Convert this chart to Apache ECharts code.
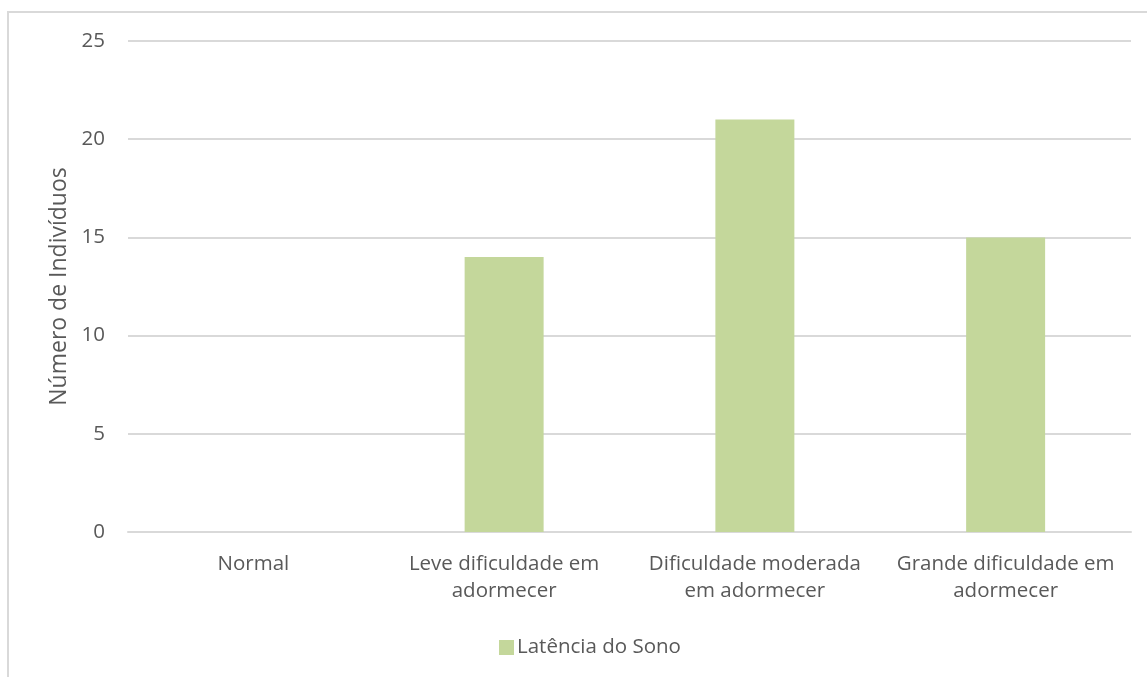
<!DOCTYPE html>
<html>
<head>
<meta charset="utf-8">
<script src="https://cdn.jsdelivr.net/npm/echarts@6/dist/echarts.min.js"></script>
<style>
  html, body { margin: 0; padding: 0; background: #fff; }
  #chart { width: 1147px; height: 677px; }
</style>
</head>
<body>
<div id="chart"></div>
<script>
// Sleep latency groups and number of individuals in each
const categories = [
  'Normal',
  'Leve dificuldade em\nadormecer',
  'Dificuldade moderada\nem adormecer',
  'Grande dificuldade em\nadormecer'
];
const seriesName = 'Latência do Sono';
const values = [0, 14, 21, 15];
const yAxisTitle = 'Número de Indivíduos';

const textColor = '#595959';
const gridColor = '#D9D9D9';
const barColor = '#C4D79B';
const fontFamily = '"Open Sans", sans-serif';
const labelSize = 20.5;

const chart = echarts.init(document.getElementById('chart'), null, { renderer: 'canvas' });
chart.setOption({
  backgroundColor: '#fff',
  animation: false,
  textStyle: { fontFamily: fontFamily, color: textColor },
  graphic: [{
    type: 'rect',
    shape: { x: 8, y: 12, width: 1300, height: 900 },
    style: { fill: 'none', stroke: gridColor, lineWidth: 2 },
    silent: true,
    z: -1
  }],
  grid: { left: 128, right: 16, top: 41, bottom: 145 },
  legend: {
    data: [seriesName],
    top: 632,
    left: 494,
    itemWidth: 15,
    itemHeight: 15,
    itemGap: 6,
    icon: 'rect',
    textStyle: { fontFamily: fontFamily, fontSize: labelSize, color: textColor, padding: [0, 0, 0, -2] }
  },
  xAxis: {
    type: 'category',
    data: categories,
    axisLine: { show: true, lineStyle: { color: gridColor, width: 2 } },
    axisTick: { show: false },
    axisLabel: {
      fontFamily: fontFamily, fontSize: labelSize, color: textColor,
      lineHeight: 27, margin: 19, interval: 0
    }
  },
  yAxis: {
    type: 'value',
    min: 0,
    max: 25,
    interval: 5,
    name: yAxisTitle,
    nameLocation: 'middle',
    nameGap: 57,
    nameTextStyle: { fontFamily: fontFamily, fontSize: 23, color: textColor },
    axisLine: { show: false },
    axisTick: { show: false },
    axisLabel: { fontFamily: fontFamily, fontSize: labelSize, color: textColor, margin: 23 },
    splitLine: { lineStyle: { color: gridColor, width: 2 } }
  },
  series: [{
    name: seriesName,
    type: 'bar',
    data: values,
    barWidth: '31.5%',
    itemStyle: { color: barColor }
  }]
});
</script>
</body>
</html>
